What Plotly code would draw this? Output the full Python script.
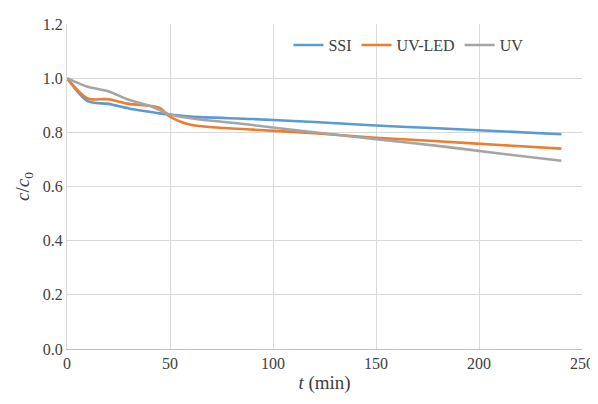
import plotly.graph_objects as go

time_min = [0, 10, 20, 30, 40, 45, 50, 60, 90, 120, 150, 180, 210, 240]
ssi = [1.0, 0.915, 0.905, 0.888, 0.876, 0.870, 0.866, 0.858, 0.849, 0.838, 0.825, 0.815, 0.804, 0.793]
uv_led = [1.0, 0.925, 0.922, 0.905, 0.898, 0.890, 0.858, 0.828, 0.81, 0.797, 0.780, 0.767, 0.753, 0.740]
uv = [1.0, 0.968, 0.952, 0.920, 0.898, 0.882, 0.866, 0.852, 0.827, 0.800, 0.775, 0.750, 0.722, 0.695]

series_names = ["SSI", "UV-LED", "UV"]
series_values = [ssi, uv_led, uv]
colors = ["#5B9BD5", "#ED7D31", "#A5A5A5"]

y_ticks = [0.0, 0.2, 0.4, 0.6, 0.8, 1.0, 1.2]
x_ticks = [0, 50, 100, 150, 200, 250]

fig = go.Figure()
for name, vals, col in zip(series_names, series_values, colors):
    fig.add_trace(go.Scatter(
        x=time_min, y=vals, name=name, mode="lines",
        line=dict(color=col, width=2.6, shape="spline", smoothing=0.8),
    ))

fig.update_layout(
    width=590, height=396,
    margin=dict(l=59, r=16, t=16, b=55),
    paper_bgcolor="white", plot_bgcolor="white",
    font=dict(family="Liberation Serif", size=16, color="#404040"),
    showlegend=True,
    legend=dict(orientation="h", x=0.43, y=0.935, xanchor="left", yanchor="middle",
                bgcolor="rgba(0,0,0,0)"),
    xaxis=dict(
        range=[0, 250], tickvals=x_ticks, ticktext=[str(v) for v in x_ticks],
        showgrid=True, gridcolor="#D9D9D9", gridwidth=1,
        showline=True, linecolor="#BFBFBF", linewidth=1,
        zeroline=False, ticks="", automargin=False,
        tickfont=dict(family="Liberation Serif", size=16),
        title=dict(text="<i>t</i> (min)", standoff=4),
    ),
    yaxis=dict(
        range=[0, 1.2], tickvals=y_ticks, ticktext=[f"{v:.1f}" for v in y_ticks],
        showgrid=True, gridcolor="#D9D9D9", gridwidth=1,
        showline=True, linecolor="#D9D9D9", linewidth=1,
        zeroline=False, ticks="", automargin=False,
        tickfont=dict(family="Liberation Serif", size=16),
        title=dict(text="<i>c</i>/<i>c</i><sub>0</sub>", standoff=8),
    ),
)

fig.write_html("out.html")
